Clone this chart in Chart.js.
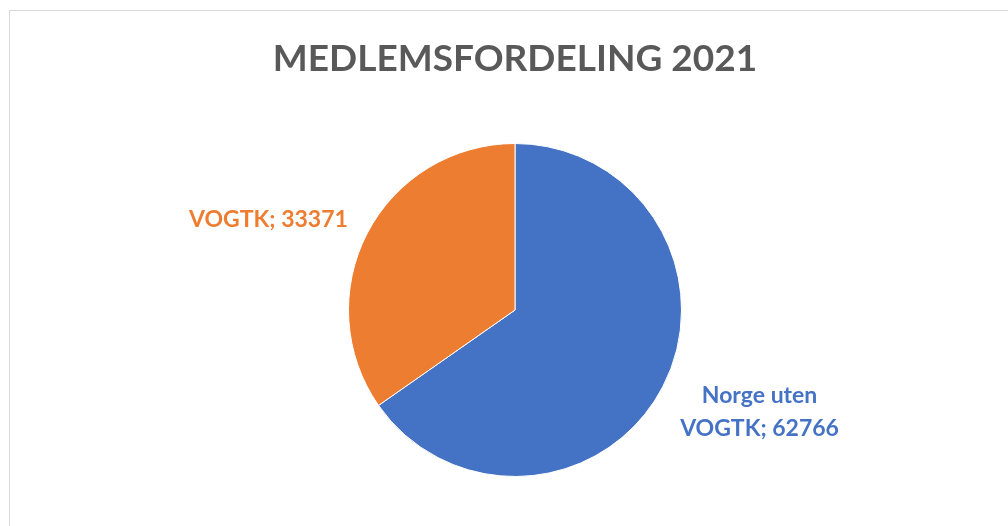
<!DOCTYPE html>
<html>
<head>
<meta charset="utf-8">
<script src="https://cdn.jsdelivr.net/npm/chart.js@4"></script>
<style>
  html, body { margin: 0; padding: 0; background: #fff; }
  #wrap { position: relative; width: 1008px; height: 526px; overflow: hidden; }
  #frame { position: absolute; left: 9px; top: 10px; width: 1200px; height: 600px;
           border-top: 1px solid #d9d9d9; border-left: 1px solid #d9d9d9; }
  canvas { position: absolute; left: 0; top: 0; }
</style>
</head>
<body>
<div id="wrap">
  <div id="frame"></div>
  <canvas id="pie" width="1008" height="526"></canvas>
</div>
<script>
// Data
const categories = ['Norge uten VOGTK', 'VOGTK'];
const members = [62766, 33371];
const labelLines = [['Norge uten', 'VOGTK; 62766'], ['VOGTK; 33371']];
const sliceColors = ['#4472C4', '#ED7D31'];

const FONT = "Lato, 'Open Sans', sans-serif";

// Draws the data labels just outside each slice, like Excel's "outside end"
const outsideLabels = {
  id: 'outsideLabels',
  afterDatasetsDraw(chart) {
    const ctx = chart.ctx;
    const meta = chart.getDatasetMeta(0);
    ctx.save();
    ctx.font = 'bold 23px ' + FONT;
    ctx.textBaseline = 'middle';
    meta.data.forEach((arc, i) => {
      const mid = (arc.startAngle + arc.endAngle) / 2;
      const r = arc.outerRadius + 22;
      const x = arc.x + Math.cos(mid) * r;
      const y = arc.y + Math.sin(mid) * r;
      const lines = labelLines[i];
      const lh = 33;
      ctx.fillStyle = sliceColors[i];
      ctx.textAlign = Math.cos(mid) >= 0 ? 'left' : 'right';
      // lower half: first line at anchor; upper half: last line at anchor
      const y0 = Math.sin(mid) >= 0 ? y - 2 : y - (lines.length - 1) * lh - 3;
      const wMax = Math.max(...lines.map(s => ctx.measureText(s).width));
      lines.forEach((t, k) => {
        const w = ctx.measureText(t).width;
        const shift = (wMax - w) / 2;
        const xx = ctx.textAlign === 'left' ? x + shift - 2 : x - shift;
        ctx.fillText(t, xx, y0 + k * lh);
      });
    });
    ctx.restore();
  }
};

new Chart(document.getElementById('pie'), {
  type: 'pie',
  data: {
    labels: categories,
    datasets: [{
      data: members,
      backgroundColor: sliceColors,
      borderColor: '#ffffff',
      borderWidth: 1
    }]
  },
  options: {
    responsive: false,
    animation: false,
    layout: { padding: { top: 0, bottom: 49, left: 22, right: 0 } },
    plugins: {
      legend: { display: false },
      tooltip: { enabled: false },
      title: {
        display: true,
        text: 'MEDLEMSFORDELING 2021',
        color: '#595959',
        font: { family: FONT, size: 37, weight: 'bold', lineHeight: 1.2 },
        padding: { top: 37, bottom: 61.6 }
      }
    }
  },
  plugins: [outsideLabels]
});
</script>
</body>
</html>
